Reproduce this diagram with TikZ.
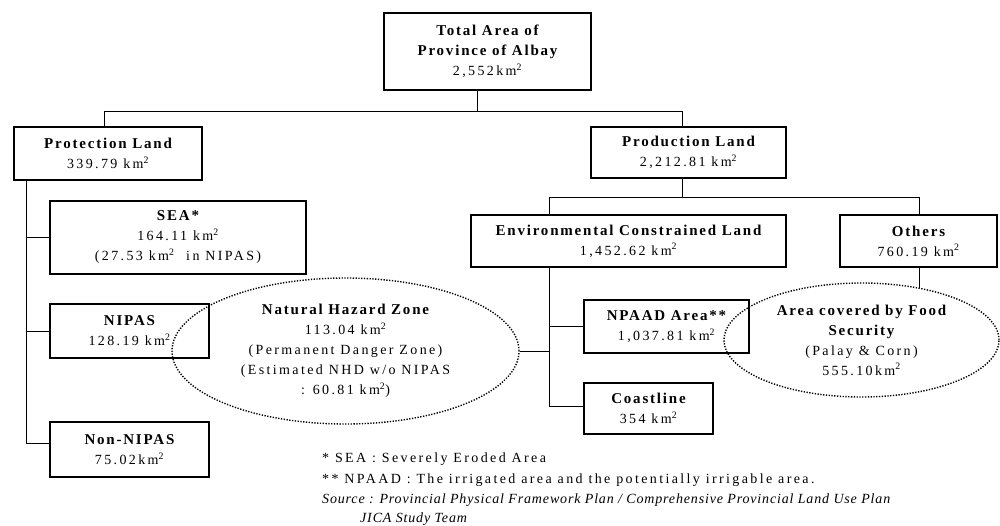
\documentclass[tikz,border=0pt]{standalone}
\usepackage{fontspec}
\setmainfont{Liberation Serif}[LetterSpace=17]
\usetikzlibrary{shapes.geometric}
\newcommand\hdf{\fontsize{15}{20}\selectfont\bfseries\addfontfeature{LetterSpace=12}}
\newcommand\rgf{\fontsize{14}{20}\selectfont}
\newcommand\itf{\fontsize{14}{20}\selectfont\itshape\addfontfeature{LetterSpace=6}}
\newcommand\sq{\textsuperscript{2}}
\tikzset{
  box/.style={draw, rectangle, line width=1.8pt, inner sep=0pt, align=center, font=\rgf},
  zone/.style={draw, ellipse, line width=1.4pt, dash pattern=on 1.3pt off 1.5pt, inner sep=0pt, align=center, font=\rgf},
  conn/.style={line width=0.9pt},
  note/.style={anchor=base west, inner sep=0pt, font=\rgf},
}
\begin{document}
\begin{tikzpicture}[x=1pt,y=-1pt]
\useasboundingbox (0,0) rectangle (1000,525);
% boxes
\node[box, minimum width=207pt, minimum height=77pt] (total) at (487.5,51.5)
  {{\hdf Total Area of}\\{\hdf Province of Albay}\\2,552km\sq};
\node[box, minimum width=188pt, minimum height=53pt] (prot) at (108,153.5)
  {{\hdf Protection Land}\\339.79 km\sq};
\node[box, minimum width=195pt, minimum height=51pt] (prod) at (688.5,152.5)
  {{\hdf Production Land}\\2,212.81 km\sq};
\node[box, minimum width=256pt, minimum height=73pt] (sea) at (178,237.5)
  {{\hdf SEA*}\\164.11 km\sq\\(27.53 km\sq\ \ in NIPAS)};
\node[box, minimum width=159pt, minimum height=54pt] (nipas) at (129.5,331)
  {{\hdf NIPAS}\\128.19 km\sq};
\node[box, minimum width=159pt, minimum height=55pt] (nonnipas) at (129.5,449.5)
  {{\hdf Non-NIPAS}\\75.02km\sq};
\node[box, minimum width=315pt, minimum height=52pt] (env) at (628.5,241)
  {{\hdf Environmental Constrained Land}\\1,452.62 km\sq};
\node[box, minimum width=157pt, minimum height=52pt] (others) at (918.5,241)
  {{\hdf Others}\\760.19 km\sq};
\node[box, minimum width=165pt, minimum height=53pt] (npaad) at (666.5,326.5)
  {{\hdf NPAAD Area**}\\1,037.81 km\sq};
\node[box, minimum width=129pt, minimum height=51pt] (coast) at (648.5,408.5)
  {{\hdf Coastline}\\354 km\sq};
% zones
\node[zone, minimum width=347pt, minimum height=146pt] (nhz) at (345.5,351)
  {{\hdf Natural Hazard Zone}\\113.04 km\sq\\(Permanent Danger Zone)\\(Estimated NHD w/o NIPAS\\: 60.81 km\sq)};
\node[zone, minimum width=275pt, minimum height=114pt] (food) at (861.5,340)
  {{\hdf Area covered by Food}\\{\hdf Security}\\(Palay \& Corn)\\555.10km\sq};
% connectors
\coordinate (tj) at (477,111);
\coordinate (pj) at (104,111);
\coordinate (dj) at (682,111);
\coordinate (ej) at (549,197);
\coordinate (oj) at (919,197);
\coordinate (lb) at (26,0);
\draw[conn] (total.south -| tj) -- (tj);
\draw[conn] (prot.north -| pj) -- (pj) -- (dj) -- (prod.north -| dj);
\draw[conn] (prod.south -| dj) -- (dj |- ej);
\draw[conn] (env.north -| ej) -- (ej) -- (oj) -- (others.north -| oj);
\draw[conn] (env.south -| ej) |- ([yshift=2pt]coast.west);
\draw[conn] (ej |- npaad.west) -- (npaad.west);
\draw[conn] (nhz.east) -- (nhz.east -| ej);
\draw[conn] (food.42 |- others.south) -- (food.42);
\draw[conn] (prot.south -| lb) |- ([yshift=6pt]nonnipas.west);
\draw[conn] (lb |- sea.west) -- (sea.west);
\draw[conn] (lb |- nipas.west) -- (nipas.west);
% notes
\node[note] (n1) at (322,462) {* SEA : Severely Eroded Area};
\node[note] (n2) at (322,483) {** NPAAD : The irrigated area and the potentially irrigable area.};
\node[note, font=\itf] (n3) at (322,503) {Source : Provincial Physical Framework Plan / Comprehensive Provincial Land Use Plan};
\node[note, font=\itf] (n4) at (360,522) {JICA Study Team};
\end{tikzpicture}
\end{document}
